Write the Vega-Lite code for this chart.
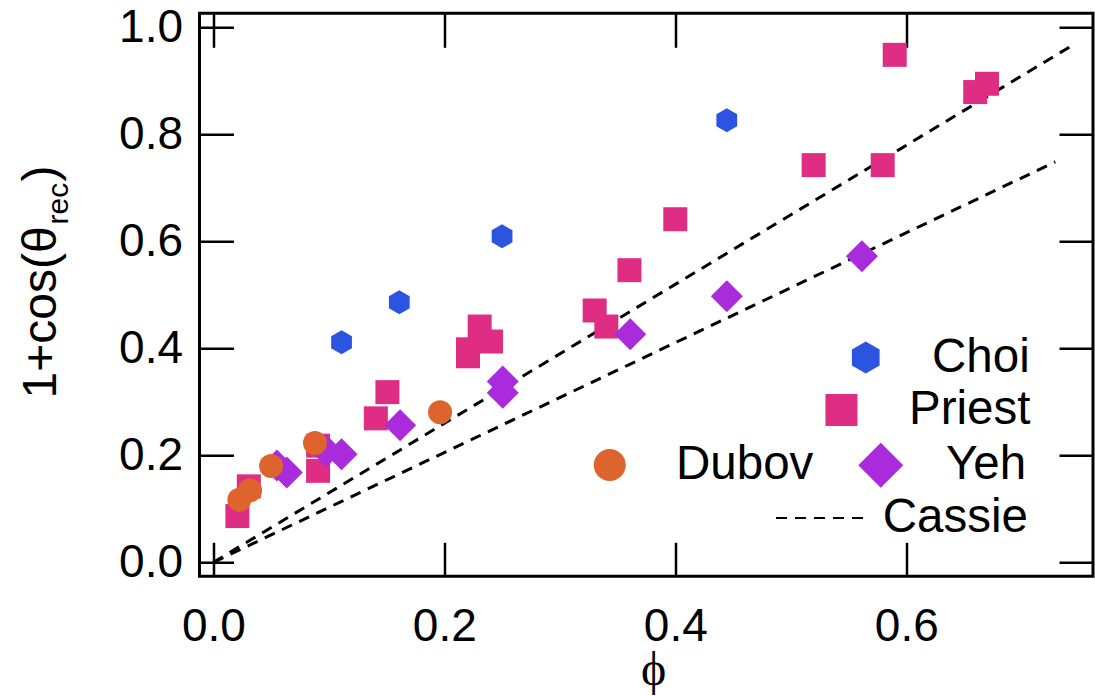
{
  "$schema": "https://vega.github.io/schema/vega-lite/v6.json",
  "width": 893.5,
  "height": 563,
  "autosize": {"type": "none"},
  "padding": {"left": 199.5, "top": 13.3, "right": 2, "bottom": 119.7},
  "config": {
    "view": {"stroke": "black", "strokeWidth": 3},
    "font": "Liberation Sans",
    "axis": {"grid": false, "domain": false, "labelFont": "Liberation Sans", "labelFontSize": 46, "labelColor": "black", "titleColor": "black", "tickColor": "black", "tickWidth": 2.5, "labelFlush": false, "labelOverlap": false, "titleFont": "Liberation Sans", "titleFontWeight": "normal"},
    "legend": {"labelFont": "Liberation Sans", "labelFontSize": 47.5, "labelColor": "black", "labelLimit": 400, "padding": 0}
  },
  "datasets": {
    "cassie": [
      {"series": "Cassie", "line": "a", "phi": 0, "v": 0},
      {"series": "Cassie", "line": "a", "phi": 0.744, "v": 0.966},
      {"series": "Cassie", "line": "b", "phi": 0, "v": 0},
      {"series": "Cassie", "line": "b", "phi": 0.729, "v": 0.748}
    ],
    "points": [
      {"series": "Choi", "phi": 0.111, "v": 0.411},
      {"series": "Choi", "phi": 0.161, "v": 0.486},
      {"series": "Choi", "phi": 0.250, "v": 0.609},
      {"series": "Choi", "phi": 0.4446, "v": 0.826},
      {"series": "Priest", "phi": 0.0208, "v": 0.0865},
      {"series": "Priest", "phi": 0.0307, "v": 0.142},
      {"series": "Priest", "phi": 0.0907, "v": 0.218},
      {"series": "Priest", "phi": 0.0907, "v": 0.171},
      {"series": "Priest", "phi": 0.1407, "v": 0.269},
      {"series": "Priest", "phi": 0.1507, "v": 0.318},
      {"series": "Priest", "phi": 0.2205, "v": 0.398},
      {"series": "Priest", "phi": 0.2205, "v": 0.385},
      {"series": "Priest", "phi": 0.2306, "v": 0.4405},
      {"series": "Priest", "phi": 0.2404, "v": 0.4125},
      {"series": "Priest", "phi": 0.3302, "v": 0.4705},
      {"series": "Priest", "phi": 0.3403, "v": 0.4405},
      {"series": "Priest", "phi": 0.3603, "v": 0.5458},
      {"series": "Priest", "phi": 0.400, "v": 0.641},
      {"series": "Priest", "phi": 0.5198, "v": 0.742},
      {"series": "Priest", "phi": 0.5796, "v": 0.742},
      {"series": "Priest", "phi": 0.590, "v": 0.948},
      {"series": "Priest", "phi": 0.6597, "v": 0.8785},
      {"series": "Priest", "phi": 0.6699, "v": 0.894},
      {"series": "Yeh", "phi": 0.055, "v": 0.181},
      {"series": "Yeh", "phi": 0.0636, "v": 0.168},
      {"series": "Yeh", "phi": 0.098, "v": 0.208},
      {"series": "Yeh", "phi": 0.111, "v": 0.202},
      {"series": "Yeh", "phi": 0.1617, "v": 0.256},
      {"series": "Yeh", "phi": 0.2506, "v": 0.338},
      {"series": "Yeh", "phi": 0.2506, "v": 0.317},
      {"series": "Yeh", "phi": 0.361, "v": 0.426},
      {"series": "Yeh", "phi": 0.4446, "v": 0.497},
      {"series": "Yeh", "phi": 0.5616, "v": 0.572},
      {"series": "Dubov", "phi": 0.0225, "v": 0.117},
      {"series": "Dubov", "phi": 0.0318, "v": 0.1346},
      {"series": "Dubov", "phi": 0.05, "v": 0.18},
      {"series": "Dubov", "phi": 0.088, "v": 0.223},
      {"series": "Dubov", "phi": 0.1963, "v": 0.2805}
    ]
  },
  "layer": [
    {
      "data": {"name": "cassie"},
      "mark": {"type": "line", "color": "black", "strokeWidth": 3},
      "encoding": {
        "x": {"field": "phi", "type": "quantitative", "scale": {"domain": [-0.012, 0.7617], "nice": false, "zero": false},
          "axis": {"orient": "bottom", "values": [0, 0.2, 0.4, 0.6], "format": ".1f", "ticks": false, "labelPadding": 64, "labelBaseline": "alphabetic",
            "title": "ϕ", "titleFont": "Liberation Serif", "titleFontSize": 48, "titleX": 453.5, "titleY": 108, "titleBaseline": "alphabetic", "titleAlign": "center"}},
        "y": {"field": "v", "type": "quantitative", "scale": {"domain": [-0.026, 1.0256], "nice": false, "zero": false},
          "axis": {"orient": "left", "values": [0, 0.2, 0.4, 0.6, 0.8, 1], "format": ".1f", "ticks": false, "labelPadding": 17,
            "title": "1+cos(θ", "titleFontSize": 48, "titleAngle": 270, "titleX": -144.5, "titleY": 384.7, "titleAlign": "left", "titleBaseline": "alphabetic"}},
        "detail": {"field": "line"},
        "strokeDash": {"field": "series", "type": "nominal", "scale": {"domain": ["Cassie"], "range": [[11, 8]]},
          "legend": {"title": null, "orient": "none", "legendX": 575.5, "legendY": 460.2, "symbolSize": 7569, "symbolStrokeWidth": 2, "symbolDash": [7, 7], "symbolStrokeColor": "black", "labelOffset": 18.7}}
      }
    },
    {
      "data": {"name": "points"},
      "transform": [{"filter": "datum.series === 'Choi'"}],
      "mark": {"type": "point", "filled": true, "opacity": 1, "size": 576, "shape": "M0,-1L0.866,-0.5L0.866,0.5L0,1L-0.866,0.5L-0.866,-0.5Z"},
      "encoding": {
        "x": {"field": "phi", "type": "quantitative", "scale": {"domain": [-0.012, 0.7617], "nice": false, "zero": false},
          "axis": {"orient": "top", "values": [0, 0.2, 0.4, 0.6], "labels": false, "tickSize": -34, "title": null}},
        "y": {"field": "v", "type": "quantitative", "scale": {"domain": [-0.026, 1.0256], "nice": false, "zero": false},
          "axis": {"orient": "right", "values": [0, 0.2, 0.4, 0.6, 0.8, 1], "labels": false, "tickSize": -34, "title": null}},
        "color": {"field": "series", "type": "nominal", "scale": {"domain": ["Choi"], "range": ["#2B55E0"]},
          "legend": {"title": null, "orient": "none", "legendX": 642.5, "legendY": 320.5, "symbolSize": 1024, "symbolType": "M0,-1L0.866,-0.5L0.866,0.5L0,1L-0.866,0.5L-0.866,-0.5Z", "labelOffset": 42.5}}
      }
    },
    {
      "data": {"name": "points"},
      "transform": [{"filter": "datum.series === 'Priest'"}],
      "mark": {"type": "point", "filled": true, "opacity": 1, "size": 576, "shape": "square"},
      "encoding": {
        "x": {"field": "phi", "type": "quantitative", "scale": {"domain": [-0.012, 0.7617], "nice": false, "zero": false}, "axis": null},
        "y": {"field": "v", "type": "quantitative", "scale": {"domain": [-0.026, 1.0256], "nice": false, "zero": false},
          "axis": {"orient": "left", "values": [0, 0.2, 0.4, 0.6, 0.8, 1], "labels": false, "ticks": false,
            "title": "rec", "titleFontSize": 30, "titleAngle": 270, "titleX": -132.5, "titleY": 210.7, "titleAlign": "left", "titleBaseline": "alphabetic"}},
        "color": {"field": "series", "type": "nominal", "scale": {"domain": ["Priest"], "range": ["#DE2D82"]},
          "legend": {"title": null, "orient": "none", "legendX": 618.2, "legendY": 373, "symbolSize": 1024, "symbolType": "square", "labelOffset": 43.8}}
      }
    },
    {
      "data": {"name": "points"},
      "transform": [{"filter": "datum.series === 'Yeh'"}],
      "mark": {"type": "point", "filled": true, "opacity": 1, "size": 1024, "shape": "diamond"},
      "encoding": {
        "x": {"field": "phi", "type": "quantitative", "scale": {"domain": [-0.012, 0.7617], "nice": false, "zero": false},
          "axis": {"orient": "bottom", "values": [0, 0.2, 0.4, 0.6], "labels": false, "tickSize": -34, "title": null}},
        "y": {"field": "v", "type": "quantitative", "scale": {"domain": [-0.026, 1.0256], "nice": false, "zero": false},
          "axis": {"orient": "left", "values": [0, 0.2, 0.4, 0.6, 0.8, 1], "labels": false, "ticks": false,
            "title": ")", "titleFontSize": 48, "titleAngle": 270, "titleX": -144.5, "titleY": 167.7, "titleAlign": "left", "titleBaseline": "alphabetic"}},
        "color": {"field": "series", "type": "nominal", "scale": {"domain": ["Yeh"], "range": ["#A92BDB"]},
          "legend": {"title": null, "orient": "none", "legendX": 657.5, "legendY": 428.2, "symbolSize": 2025, "symbolType": "diamond", "labelOffset": 41.5}}
      }
    },
    {
      "data": {"name": "points"},
      "transform": [{"filter": "datum.series === 'Dubov'"}],
      "mark": {"type": "point", "filled": true, "opacity": 1, "size": 576, "shape": "circle"},
      "encoding": {
        "x": {"field": "phi", "type": "quantitative", "scale": {"domain": [-0.012, 0.7617], "nice": false, "zero": false}, "axis": null},
        "y": {"field": "v", "type": "quantitative", "scale": {"domain": [-0.026, 1.0256], "nice": false, "zero": false},
          "axis": {"orient": "left", "values": [0, 0.2, 0.4, 0.6, 0.8, 1], "labels": false, "tickSize": -34, "title": null}},
        "color": {"field": "series", "type": "nominal", "scale": {"domain": ["Dubov"], "range": ["#DE642D"]},
          "legend": {"title": null, "orient": "none", "legendX": 386.5, "legendY": 428, "symbolSize": 1024, "symbolType": "circle", "labelOffset": 42.5}}
      }
    }
  ],
  "resolve": {
    "scale": {"color": "independent"},
    "legend": {"color": "independent"},
    "axis": {"x": "independent", "y": "independent"}
  }
}
